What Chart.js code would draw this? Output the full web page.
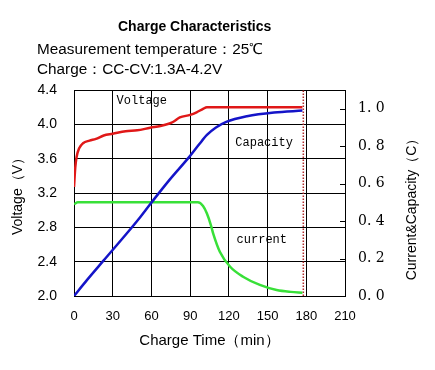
<!DOCTYPE html>
<html>
<head>
<meta charset="utf-8">
<script src="https://cdn.jsdelivr.net/npm/chart.js@4/dist/chart.umd.min.js"></script>
<style>
  body { margin: 0; background: #fff; }
  #wrap { position: relative; width: 435px; height: 370px; font-family: "Liberation Sans", Arial, sans-serif; color: #000; }
  #c { position: absolute; left: 0; top: 0; }
  .txt { position: absolute; white-space: nowrap; line-height: 1; }
  #title { left: 118px; top: 19px; font-size: 14px; font-weight: bold; }
  #sub1 { left: 37px; top: 41px; font-size: 15.3px; }
  #sub2 { left: 37px; top: 61px; font-size: 15.3px; }
</style>
</head>
<body>
<div id="wrap">
  <canvas id="c" width="435" height="370"></canvas>
  <div class="txt" id="title">Charge Characteristics</div>
  <div class="txt" id="sub1">Measurement temperature：25℃</div>
  <div class="txt" id="sub2">Charge：CC-CV:1.3A-4.2V</div>
</div>
<script>
// charge time (min) and readings
var voltageTime = [0, 1, 2, 4, 7, 12, 17, 23, 30, 40, 49, 59, 67, 74, 77, 82, 90, 95, 100, 103, 177];
var voltageValues = [3.27, 3.5, 3.62, 3.72, 3.78, 3.81, 3.83, 3.87, 3.89, 3.92, 3.93, 3.96, 3.98, 4.01, 4.03, 4.08, 4.11, 4.14, 4.18, 4.2, 4.2];

var capacityTime = [0, 10, 23, 41, 50, 59, 74, 89, 97, 103, 110, 118, 134, 155, 177];
var capacityValues = [0, 0.085, 0.19, 0.335, 0.41, 0.49, 0.62, 0.74, 0.81, 0.86, 0.9, 0.93, 0.96, 0.98, 0.99];

var currentTime = [0, 3, 96, 100, 103, 106, 108, 113, 121, 131, 144, 157, 168, 177];
var currentValues = [0.49, 0.5, 0.5, 0.48, 0.44, 0.38, 0.33, 0.236, 0.156, 0.103, 0.059, 0.032, 0.022, 0.018];

var endTime = 177.7;
var timeTicks = [0, 30, 60, 90, 120, 150, 180, 210];

var curveLabels = [
  { text: "Voltage", t: 33, v: 4.27 },
  { text: "Capacity", t: 125, v: 3.78 },
  { text: "current", t: 126, v: 2.65 }
];

function pairs(xs, ys) {
  return xs.map(function (x, i) { return { x: x, y: ys[i] }; });
}

var extras = {
  id: "extras",
  afterDatasetsDraw: function (chart) {
    var ctx = chart.ctx;
    var area = chart.chartArea;
    var x = chart.scales.x, y = chart.scales.y, y1 = chart.scales.y1;
    ctx.save();
    ctx.fillStyle = "#000";
    ctx.textBaseline = "middle";
    ctx.font = '12px "Liberation Mono", monospace';
    curveLabels.forEach(function (l) {
      ctx.fillText(l.text, x.getPixelForValue(l.t), y.getPixelForValue(l.v));
    });
    // small inner tick marks on the right axis
    ctx.strokeStyle = "#000";
    ctx.lineWidth = 1;
    y1.ticks.forEach(function (t) {
      var py = Math.round(y1.getPixelForValue(t.value)) + 0.5;
      ctx.beginPath();
      ctx.moveTo(area.right - 5, py);
      ctx.lineTo(area.right, py);
      ctx.stroke();
    });
    // right axis title, reads bottom to top
    ctx.translate(412, 206);
    ctx.rotate(-Math.PI / 2);
    ctx.textAlign = "center";
    ctx.font = '14px "Liberation Sans", Arial, sans-serif';
    ctx.fillText("Current&Capacity（C）", 0, 0);
    ctx.restore();
  }
};

new Chart(document.getElementById("c"), {
  type: "line",
  data: {
    datasets: [
      {
        label: "Voltage",
        data: pairs(voltageTime, voltageValues),
        yAxisID: "y",
        borderColor: "#e01818",
        borderWidth: 2.5,
        pointRadius: 0,
        cubicInterpolationMode: "monotone"
      },
      {
        label: "Capacity",
        data: pairs(capacityTime, capacityValues),
        yAxisID: "y1",
        borderColor: "#1414c8",
        borderWidth: 2.5,
        pointRadius: 0,
        cubicInterpolationMode: "monotone"
      },
      {
        label: "current",
        data: pairs(currentTime, currentValues),
        yAxisID: "y1",
        borderColor: "#38e038",
        borderWidth: 2.5,
        pointRadius: 0,
        cubicInterpolationMode: "monotone"
      },
      {
        label: "end",
        data: [{ x: endTime, y: 2.0 }, { x: endTime, y: 4.44 }],
        yAxisID: "y",
        borderColor: "#b02828",
        borderWidth: 1.5,
        borderDash: [1.5, 1.5],
        pointRadius: 0
      }
    ]
  },
  options: {
    responsive: false,
    animation: false,
    events: [],
    layout: { padding: { top: 90, left: 0, right: 0, bottom: 0 } },
    plugins: {
      legend: { display: false },
      tooltip: { enabled: false }
    },
    scales: {
      x: {
        type: "linear",
        min: 0,
        max: 210,
        afterBuildTicks: function (s) { s.ticks = timeTicks.map(function (v) { return { value: v }; }); },
        afterFit: function (s) { s.height = 74; },
        grid: { color: "#000", lineWidth: 1, drawTicks: false },
        border: { color: "#000", width: 1 },
        ticks: { color: "#000", padding: 13, font: { family: "Liberation Sans", size: 13 }, maxRotation: 0 },
        title: {
          display: true,
          text: "Charge Time（min）",
          color: "#000",
          font: { family: "Liberation Sans", size: 15 },
          padding: { top: 0, bottom: 20 }
        }
      },
      y: {
        position: "left",
        min: 2.0,
        max: 4.4,
        afterFit: function (s) { s.width = 74; },
        grid: { color: "#000", lineWidth: 1, drawTicks: false },
        border: { color: "#000", width: 1 },
        ticks: {
          stepSize: 0.4,
          color: "#000",
          padding: 17,
          font: { family: "Liberation Sans", size: 14 },
          callback: function (v) { return v.toFixed(1); }
        },
        title: {
          display: true,
          text: "Voltage（V）",
          color: "#000",
          font: { family: "Liberation Sans", size: 14 },
          padding: { top: 10, bottom: 0 }
        }
      },
      y1: {
        position: "right",
        min: 0,
        max: 1.1,
        afterFit: function (s) { s.width = 90; },
        grid: { display: false, drawTicks: false },
        border: { color: "#000", width: 1 },
        ticks: {
          stepSize: 0.2,
          includeBounds: false,
          color: "#000",
          padding: 13,
          font: { family: "DejaVu Serif", size: 14 },
          callback: function (v) { return v.toFixed(1).replace(".", ". "); }
        }
      }
    }
  },
  plugins: [extras]
});
</script>
</body>
</html>
